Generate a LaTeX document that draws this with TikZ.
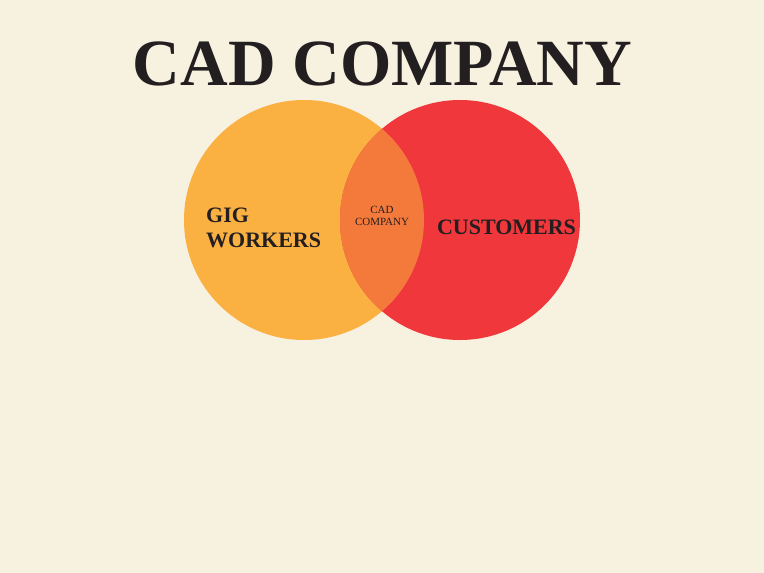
\documentclass[tikz,border=0pt]{standalone}
\usepackage{fontspec}
\setmainfont{Liberation Serif}
\usepackage{tikz}
\usetikzlibrary{positioning}
\definecolor{bgcream}{HTML}{F7F1E0}
\definecolor{gigorange}{HTML}{FBB042}
\definecolor{custred}{HTML}{EF373C}
\definecolor{mixorange}{HTML}{F47A3C}
\definecolor{inkdark}{HTML}{231F20}

\begin{document}
\begin{tikzpicture}[x=1pt,y=-1pt,
      % define styles
      set/.style={
           circle,
           minimum size=240pt,
           inner sep=0pt
      },
      big/.style={
           font=\fontsize{22}{25}\selectfont\bfseries,
           text=inkdark,
           inner sep=0pt
      },
      small/.style={
           font=\fontsize{11}{12}\selectfont,
           text=inkdark,
           inner sep=0pt,
           align=center
      }
  ]
  % background and frame
  \fill[bgcream] (0,0) rectangle (764,573);
  \useasboundingbox (0,0) rectangle (764,573);
  % title
  \node[anchor=base,inner sep=0pt,text=inkdark,font=\fontsize{66}{70}\selectfont\bfseries] (title) at (382.5,85) {CAD COMPANY};
  % the two sets
  \node[set,fill=gigorange] (gig) at (304,220) {};
  \node[set,fill=custred] (cust) at (460,220) {};
  % overlap of the two sets
  \begin{scope}
      \clip (gig.center) circle (120);
      \fill[mixorange] (cust.center) circle (120);
  \end{scope}
  % labels
  \node[big,align=left,anchor=west] (giglabel) at (206,227.5) {GIG\\WORKERS};
  \node[big,anchor=base] (custlabel) at (506.5,234) {CUSTOMERS};
  \node[small] (cad) at (382,215.5) {CAD\\COMPANY};
\end{tikzpicture}
\end{document}
